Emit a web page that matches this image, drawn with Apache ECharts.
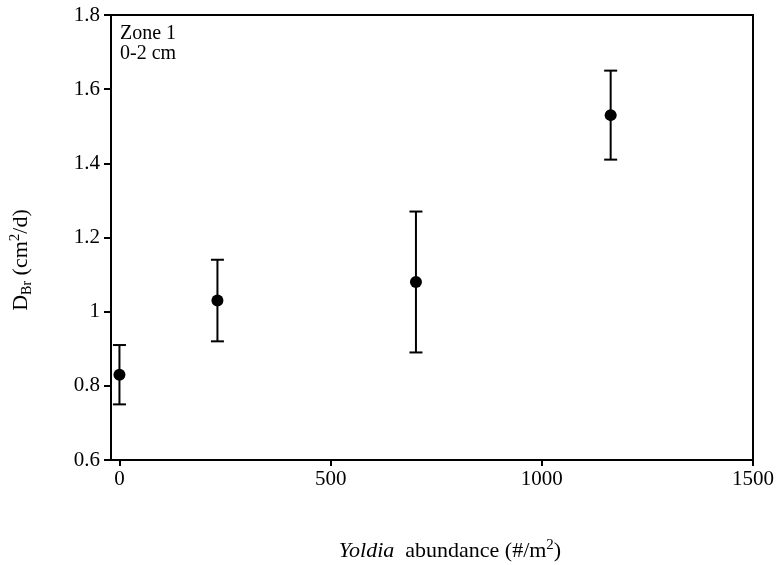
<!DOCTYPE html>
<html>
<head>
<meta charset="utf-8">
<script src="https://cdn.jsdelivr.net/npm/echarts@6/dist/echarts.min.js"></script>
<style>html,body{margin:0;padding:0;background:#fff;}#c{width:778px;height:565px;}</style>
</head>
<body>
<div id="c"></div>
<script>
var abundance = [0, 232, 702, 1163];
var dbr = [0.83, 1.03, 1.08, 1.53];
var errLow = [0.75, 0.92, 0.89, 1.41];
var errHigh = [0.91, 1.14, 1.27, 1.65];
var xTicks = [0, 500, 1000, 1500];
var yTicks = [0.6, 0.8, 1.0, 1.2, 1.4, 1.6, 1.8];

var font = 'Liberation Serif';
var chart = echarts.init(document.getElementById('c'));
var points = abundance.map(function (x, i) { return [x, dbr[i]]; });
var bars = abundance.map(function (x, i) { return [x, errLow[i], errHigh[i]]; });

chart.setOption({
  animation: false,
  backgroundColor: '#fff',
  grid: { left: 111, right: 25, top: 15, bottom: 105, show: true, borderColor: '#000', borderWidth: 2, backgroundColor: 'transparent' },
  xAxis: {
    type: 'value', min: -20, max: 1500,
    splitLine: { show: false },
    axisLine: { show: true, onZero: false, lineStyle: { color: '#000', width: 2 } },
    axisTick: { show: true, inside: false, length: 6, lineStyle: { color: '#000', width: 2 }, customValues: xTicks },
    axisLabel: { color: '#000', fontFamily: font, fontSize: 21, margin: 9, customValues: xTicks, formatter: function (v) { return String(v); } }
  },
  yAxis: {
    type: 'value', min: 0.6, max: 1.8,
    splitLine: { show: false },
    axisLine: { show: true, onZero: false, lineStyle: { color: '#000', width: 2 } },
    axisTick: { show: true, inside: false, length: 7, lineStyle: { color: '#000', width: 2 }, customValues: yTicks },
    axisLabel: { color: '#000', fontFamily: font, fontSize: 21, margin: 11, customValues: yTicks, formatter: function (v) { return String(Math.round(v * 10) / 10); } }
  },
  graphic: [
    { type: 'text', left: 120, top: 24, style: { text: 'Zone 1\n0-2 cm', font: '20px "Liberation Serif"', fill: '#000', lineHeight: 20 } },
    { type: 'text', x: 450, y: 550, style: {
        text: '{i|Yoldia}{n|  abundance (#/m}{s|2}{n|)}',
        align: 'center', verticalAlign: 'middle',
        rich: {
          i: { fontFamily: font, fontStyle: 'italic', fontSize: 22, fill: '#000', lineHeight: 24, verticalAlign: 'bottom' },
          n: { fontFamily: font, fontSize: 22, fill: '#000', lineHeight: 24, verticalAlign: 'bottom' },
          s: { fontFamily: font, fontSize: 15, fill: '#000', lineHeight: 24, verticalAlign: 'top' }
        } } },
    { type: 'text', x: 20, y: 260, rotation: Math.PI / 2, style: {
        text: '{n|D}{b|Br}{n| (cm}{s|2}{n|/d)}',
        align: 'center', verticalAlign: 'middle',
        rich: {
          n: { fontFamily: font, fontSize: 22, fill: '#000', lineHeight: 24, verticalAlign: 'bottom' },
          b: { fontFamily: font, fontSize: 14, fill: '#000', lineHeight: 24, verticalAlign: 'bottom', padding: [0, 0, -2, 0] },
          s: { fontFamily: font, fontSize: 15, fill: '#000', lineHeight: 24, verticalAlign: 'top' }
        } } }
  ],
  series: [
    {
      type: 'custom',
      data: bars,
      z: 2,
      renderItem: function (params, api) {
        var x = api.value(0);
        var lo = api.coord([x, api.value(1)]);
        var hi = api.coord([x, api.value(2)]);
        var w = 6.5;
        var st = { stroke: '#000', lineWidth: 2 };
        return { type: 'group', children: [
          { type: 'line', shape: { x1: lo[0], y1: lo[1], x2: hi[0], y2: hi[1] }, style: st },
          { type: 'line', shape: { x1: lo[0] - w, y1: lo[1], x2: lo[0] + w, y2: lo[1] }, style: st },
          { type: 'line', shape: { x1: hi[0] - w, y1: hi[1], x2: hi[0] + w, y2: hi[1] }, style: st }
        ] };
      }
    },
    {
      type: 'scatter', data: points, symbol: 'circle', symbolSize: 12, z: 3,
      itemStyle: { color: '#000', opacity: 1 }
    }
  ]
});
</script>
</body>
</html>
